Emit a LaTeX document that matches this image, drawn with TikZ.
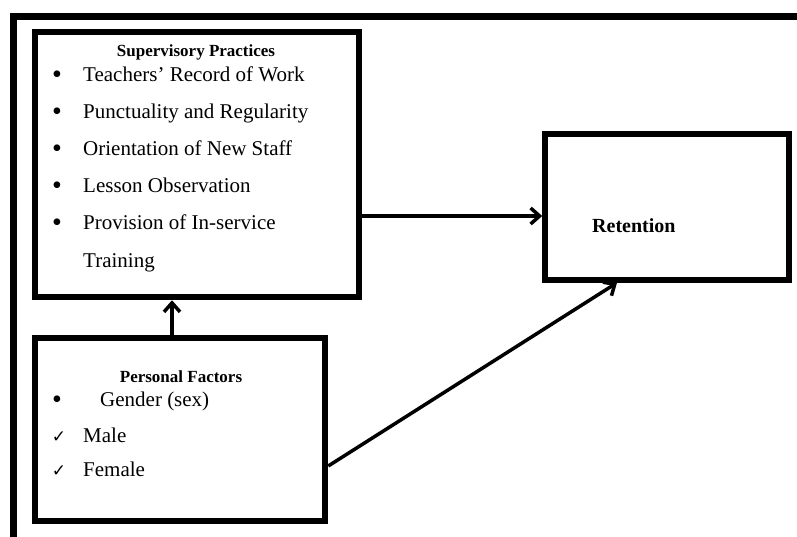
\documentclass[tikz,border=0pt]{standalone}
\usepackage{fontspec}
\setmainfont{Liberation Serif}
\newfontfamily\symfont{DejaVu Sans}
\usetikzlibrary{arrows.meta}
\begin{document}
\begin{tikzpicture}[x=1pt,y=-1pt,
  boxA/.style={draw,line width=6.5pt,rectangle,inner sep=0pt},
  conn/.style={line width=3.5pt,-{Straight Barb[length=9pt,width=16pt,line width=3.5pt]}},
  item/.style={anchor=base west,inner sep=0pt,font=\fontsize{21}{25}\selectfont},
  bul/.style={anchor=base,inner sep=0pt,font=\fontsize{28}{30}\selectfont},
  chk/.style={anchor=base,inner sep=0pt,font=\symfont\fontsize{17}{20}\selectfont},
  head/.style={anchor=base,inner sep=0pt,font=\bfseries\fontsize{17}{20}\selectfont}]
\useasboundingbox (0,0) rectangle (797,537);
% outer frame (partly visible)
\draw[line width=7pt] (10,16.5) -- (797,16.5);
\draw[line width=7pt] (13.5,13) -- (13.5,537);
% boxes
\node[boxA,minimum width=324pt,minimum height=265pt] (sup) at (197,164.5) {};
\node[boxA,minimum width=290pt,minimum height=183pt] (pers) at (180,429.5) {};
\node[boxA,line width=5.5pt,minimum width=244pt,minimum height=146pt] (ret) at (667,207) {};
% supervisory text
\node[head] (h1) at (196,57) {Supervisory Practices};
\node[bul] (b1) at (57,84) {•};
\node[item] (t1) at (83,82) {Teachers’ Record of Work};
\node[bul] (b2) at (57,121) {•};
\node[item] (t2) at (83,119) {Punctuality and Regularity};
\node[bul] (b3) at (57,158) {•};
\node[item] (t3) at (83,156) {Orientation of New Staff};
\node[bul] (b4) at (57,195) {•};
\node[item] (t4) at (83,193) {Lesson Observation};
\node[bul] (b5) at (57,232) {•};
\node[item] (t5) at (83,230) {Provision of In-service};
\node[item] (t6) at (83,267) {Training};
% personal text
\node[head] (h2) at (181,382) {Personal Factors};
\node[bul] (b6) at (57,408) {•};
\node[item] (p1) at (100,406) {Gender (sex)};
\node[chk] (c1) at (59,442) {✓};
\node[item] (p2) at (83,442) {Male};
\node[chk] (c2) at (59,476) {✓};
\node[item] (p3) at (83,476) {Female};
% retention text
\node[anchor=base west,inner sep=0pt,font=\bfseries\fontsize{20}{24}\selectfont] (r1) at (592,233) {Retention};
% connectors
\coordinate (ya) at (0,216);
\coordinate (xb) at (172,0);
\coordinate (yc) at (0,466);
\coordinate (xc) at (617,0);
\draw[conn] (sup.east |- ya) -- (ret.west |- ya);
\draw[conn] (pers.north -| xb) -- (sup.south -| xb);
\draw[conn] (pers.east |- yc) -- (ret.south -| xc);
\end{tikzpicture}
\end{document}
